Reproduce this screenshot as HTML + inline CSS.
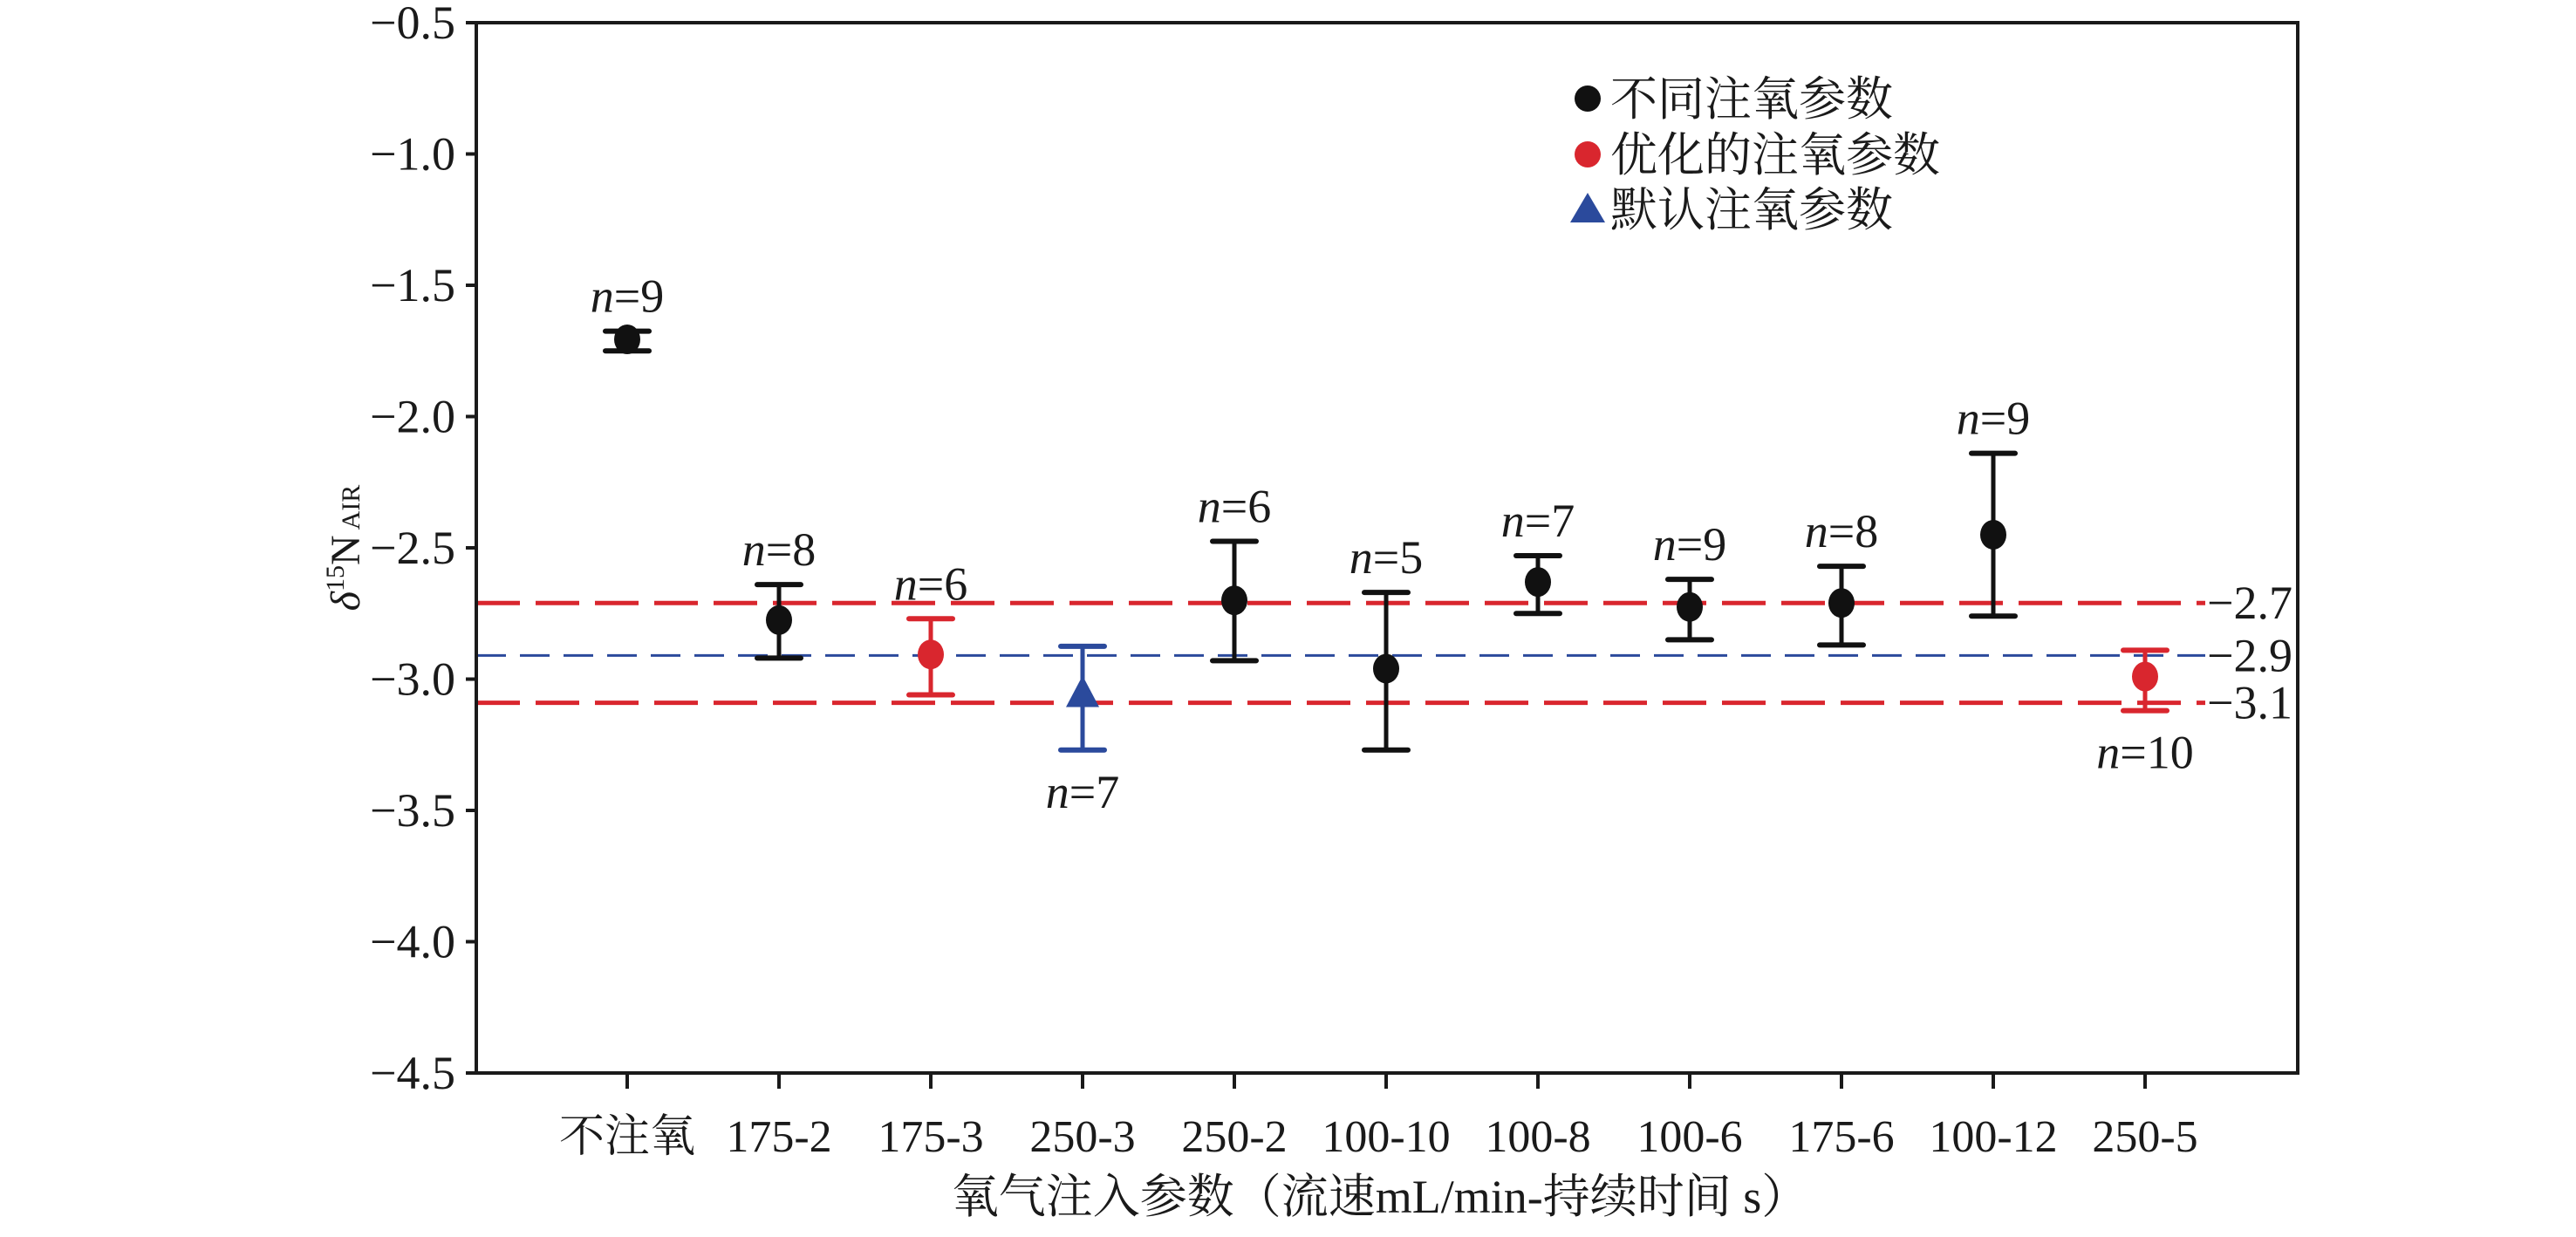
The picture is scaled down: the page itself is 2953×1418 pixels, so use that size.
<!DOCTYPE html>
<html><head><meta charset="utf-8"><style>
html,body{margin:0;padding:0;background:#fff;}
svg{display:block;}
text{font-family:"Liberation Serif","Noto Serif CJK SC",serif;fill:#1a1a1a;}
.cjk{font-family:"Liberation Serif","Noto Serif CJK SC",serif;}
</style></head><body>
<svg id="chart" width="2953" height="1418" viewBox="0 0 2953 1418" xmlns="http://www.w3.org/2000/svg"></svg>
<script>
const categories = ["不注氧","175-2","175-3","250-3","250-2","100-10","100-8","100-6","175-6","100-12","250-5"];
const means = [-1.706,-2.775,-2.906,-3.06,-2.70,-2.96,-2.63,-2.725,-2.71,-2.45,-2.99];
const errHigh = [-1.675,-2.64,-2.77,-2.875,-2.475,-2.67,-2.53,-2.62,-2.57,-2.14,-2.89];
const errLow = [-1.75,-2.92,-3.06,-3.27,-2.93,-3.27,-2.75,-2.85,-2.87,-2.76,-3.12];
const groups = ["different","different","optimized","default","different","different","different","different","different","different","optimized"];
const nLabels = ["9","8","6","7","6","5","7","9","8","9","10"];
const labelBelow = [false,false,false,true,false,false,false,false,false,false,true];
const yTicks = [-0.5,-1.0,-1.5,-2.0,-2.5,-3.0,-3.5,-4.0,-4.5];
const refValues = [-2.71,-2.91,-3.09];
const refLabels = ["−2.7","−2.9","−3.1"];
const refGroups = ["optimized","default","optimized"];

const colors = {different:"#111111", optimized:"#d9262e", default:"#2b4a9c"};
const L=546, R=2634, T=26, B=1230;
const yMin=-4.5, yMax=-0.5;
const y = v => T + (yMax - v)/(yMax - yMin)*(B-T);
const x0=719, step=174;
const x = i => x0 + i*step;
const svg=document.getElementById('chart');
const NS="http://www.w3.org/2000/svg";
function mk(tag, attrs, parent){const e=document.createElementNS(NS,tag);for(const k in attrs)e.setAttribute(k,attrs[k]);(parent||svg).appendChild(e);return e;}

refValues.forEach((v,i)=>{
  const g=refGroups[i];
  const ln=mk('line',{x1:L,x2:2528,y1:y(v),y2:y(v),stroke:colors[g],'stroke-width':g==='default'?3:5,'stroke-dasharray':g==='default'?'34 16':'50 18'});
  
  
  const t=mk('text',{x:2530,y:y(v)+18,'font-size':54});
  t.textContent=refLabels[i];
  
  
});

const frame=mk('rect',{x:L,y:T,width:R-L,height:B-T,fill:'none',stroke:'#1a1a1a','stroke-width':4});



yTicks.forEach(v=>{
  const tk=mk('line',{x1:L-12,x2:L,y1:y(v),y2:y(v),stroke:'#1a1a1a','stroke-width':4});
  
  
  const t=mk('text',{x:522,y:y(v)+18,'font-size':54,'text-anchor':'end'});
  t.textContent='−'+Math.abs(v).toFixed(1);
  
  
});

categories.forEach((c,i)=>{
  const tk=mk('line',{x1:x(i),x2:x(i),y1:B,y2:B+18,stroke:'#1a1a1a','stroke-width':4});
  
  
  const t=mk('text',{x:x(i),y:1320,'font-size':52,'text-anchor':'middle'});
  t.textContent=c;
  
  
});

categories.forEach((c,i)=>{
  const col=colors[groups[i]];
  const g=mk('g',{});
  
  
  mk('line',{x1:x(i),x2:x(i),y1:y(errHigh[i]),y2:y(errLow[i]),stroke:col,'stroke-width':5},g);
  mk('line',{x1:x(i)-25,x2:x(i)+25,y1:y(errHigh[i]),y2:y(errHigh[i]),stroke:col,'stroke-width':6,'stroke-linecap':'round'},g);
  mk('line',{x1:x(i)-25,x2:x(i)+25,y1:y(errLow[i]),y2:y(errLow[i]),stroke:col,'stroke-width':6,'stroke-linecap':'round'},g);
  const cy=y(means[i]);
  if(groups[i]==='default'){
    mk('polygon',{points:`${x(i)},${cy-22} ${x(i)-19},${cy+14} ${x(i)+19},${cy+14}`,fill:col},g);
  } else {
    mk('ellipse',{cx:x(i),cy:cy,rx:15,ry:17,fill:col},g);
  }
  const ly = labelBelow[i] ? y(errLow[i])+66 : y(errHigh[i])-22;
  const t=mk('text',{x:x(i),y:ly,'font-size':54,'text-anchor':'middle'});
  t.innerHTML='<tspan font-style="italic">n</tspan>='+nLabels[i];
  
  
});

const leg=mk('g',{});


mk('circle',{cx:1820,cy:113,r:15,fill:colors.different},leg);
mk('circle',{cx:1820,cy:177,r:15,fill:colors.optimized},leg);
mk('polygon',{points:'1820,221 1800,255 1840,255',fill:colors.default},leg);
[["不同注氧参数",113],["优化的注氧参数",177],["默认注氧参数",240]].forEach(([s,cy])=>{
  const t=mk('text',{x:1846,y:cy+19,'font-size':54,class:'cjk'},leg);
  t.textContent=s;
  
  
});

const xt=mk('text',{x:1582,y:1390,'font-size':54,'text-anchor':'middle',class:'cjk'});
xt.textContent='氧气注入参数（流速mL/min-持续时间 s）';


const yt=mk('text',{x:0,y:0,'font-size':48,'text-anchor':'middle',transform:'translate(412,628) rotate(-90)'});
yt.innerHTML='<tspan font-style="italic">δ</tspan><tspan font-size="30" dy="-18">15</tspan><tspan dy="18">N</tspan><tspan font-size="30" dx="6">AIR</tspan>';


</script>
</body></html>
